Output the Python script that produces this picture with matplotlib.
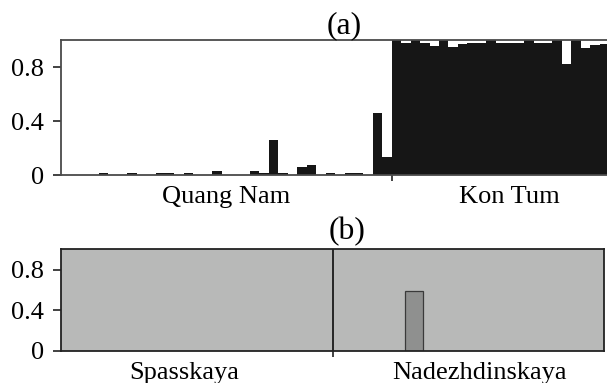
import numpy as np
import matplotlib
matplotlib.use('Agg')
import matplotlib.pyplot as plt

plt.rcParams['font.family'] = ['Liberation Serif', 'DejaVu Serif']
plt.rcParams['font.size'] = 19

# (a) membership in the dark cluster, one value per individual
quang_nam = [0, 0, 0, 0, 0.015, 0, 0, 0.015, 0, 0,
             0.015, 0.015, 0, 0.015, 0, 0, 0.03, 0, 0, 0,
             0.03, 0.02, 0.265, 0.015, 0, 0.065, 0.078, 0, 0.015, 0,
             0.015, 0.015, 0, 0.465, 0.138]
kon_tum = [1.0, 0.985, 1.0, 0.985, 0.96, 1.0, 0.955, 0.975, 0.98, 0.98,
           1.0, 0.98, 0.98, 0.98, 1.0, 0.98, 0.983, 1.0, 0.827, 1.0,
           0.946, 0.963, 0.975, 1.0, 1.0]
groups_a = ['Quang Nam', 'Kon Tum']

# (b) membership in the darker grey cluster
spasskaya = [0, 0, 0, 0, 0, 0, 0, 0, 0, 0, 0, 0, 0, 0, 0]
nadezhdinskaya = [0, 0, 0, 0, 0.59, 0, 0, 0, 0, 0, 0, 0, 0, 0, 0]
groups_b = ['Spasskaya', 'Nadezhdinskaya']

W, H = 607, 383
fig = plt.figure(figsize=(W/100, H/100), dpi=100)

def style_axes(ax, spine_col):
	for s in ax.spines.values():
		s.set_color(spine_col)
		s.set_linewidth(1.3)
	ax.set_yticks([0, 0.4, 0.8])
	ax.set_yticklabels(['0', '0.4', '0.8'])
	ax.tick_params(axis='y', length=6, width=1.2, pad=6.5, color='#222222')
	ax.tick_params(axis='x', which='major', length=4.5, width=1.2, color='#222222')
	ax.tick_params(axis='x', which='minor', length=0, pad=8)

# panel (a)
ax1 = fig.add_axes([61/W, 1-175.3/H, 567/W, 134.8/H])
vals_a = np.array(quang_nam + kon_tum)
xa = np.arange(len(vals_a))
ax1.bar(xa, vals_a, width=1.0, align='edge', color='#161616', linewidth=0)
ax1.set_xlim(0, len(vals_a))
ax1.set_ylim(0, 1)
style_axes(ax1, '#4a4a4a')
ax1.set_xticks([len(quang_nam)])
ax1.set_xticklabels([''])
ax1.set_xticks([len(quang_nam)/2, len(quang_nam) + len(kon_tum)/2], minor=True)
ax1.set_xticklabels(groups_a, minor=True)
ax1.set_title('(a)', pad=5)

# panel (b)
ax2 = fig.add_axes([61/W, 1-350.5/H, 543/W, 101.2/H])
dark = np.array(spasskaya + nadezhdinskaya)
xb = np.arange(len(dark))
ax2.bar(xb, 1-dark, bottom=dark, width=1.0, align='edge', color='#b8b9b8', linewidth=0)
m = dark > 0
ax2.bar(xb[m], dark[m], width=1.0, align='edge', color='#8f908f', edgecolor='#3a3a3a', linewidth=0.9)
ax2.axvline(len(spasskaya), color='#1a1a1a', lw=1.3)
ax2.set_xlim(0, len(dark))
ax2.set_ylim(0, 1)
style_axes(ax2, '#222222')
ax2.set_xticks([len(spasskaya)])
ax2.set_xticklabels([''])
ax2.set_xticks([0.227*len(dark), 0.770*len(dark)], minor=True)
ax2.set_xticklabels(groups_b, minor=True)
ax2.set_title('(b)', x=0.526, pad=7)

fig.savefig('out.png', dpi=100, facecolor='white')
